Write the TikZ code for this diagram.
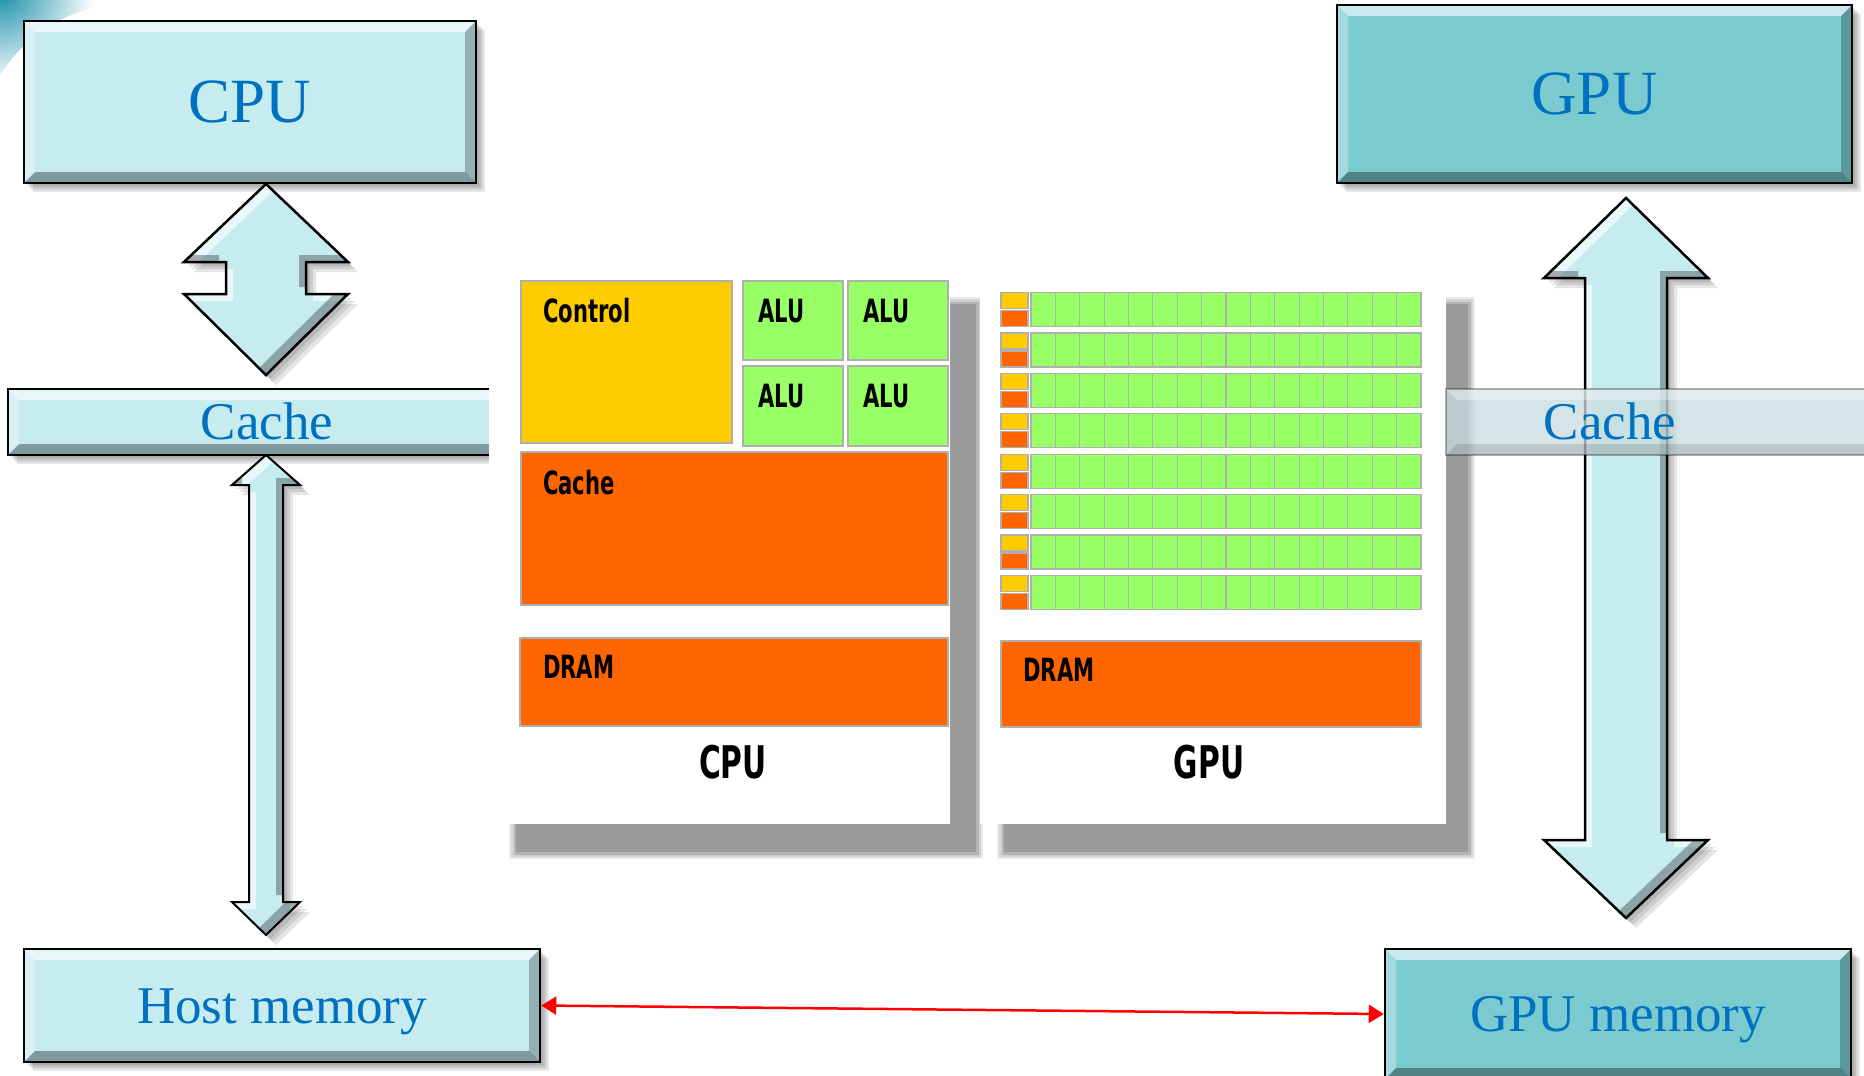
\documentclass[tikz,border=0pt]{standalone}
\usepackage{fontspec}
\setmainfont{Liberation Serif}
\newfontfamily\chipfont{DejaVu Sans}
\usetikzlibrary{arrows.meta}

\definecolor{boxL}{RGB}{198,236,240}
\definecolor{boxD}{RGB}{123,202,208}
\definecolor{txtblue}{RGB}{0,112,192}
\definecolor{cgreen}{RGB}{153,255,102}
\definecolor{cyellow}{RGB}{255,204,0}
\definecolor{corange}{RGB}{255,102,0}
\definecolor{cborder}{RGB}{175,175,175}
\definecolor{pshadow}{RGB}{155,155,155}
\definecolor{cacheG}{RGB}{200,220,222}
\definecolor{decoT}{RGB}{20,140,165}

\newcommand{\bap}[7]{(#1,#2) -- (#1+#6,#3) -- (#1+#7,#3) -- (#1+#7,#4) -- (#1+#6,#4) -- (#1,#5) -- (#1-#6,#4) -- (#1-#7,#4) -- (#1-#7,#3) -- (#1-#6,#3) -- cycle}

\newcommand{\blockarrow}[8]{%
  \foreach \d in {4,7,10}{\fill[black,opacity=0.1] \bap{#1+\d}{#2+\d}{#3+\d}{#4+\d}{#5+\d}{#6}{#7};}
  \begin{scope}
    \clip \bap{#1}{#2}{#3}{#4}{#5}{#6}{#7};
    \fill[boxL] \bap{#1}{#2}{#3}{#4}{#5}{#6}{#7};
    \fill[white,opacity=0.6,even odd rule] \bap{#1}{#2}{#3}{#4}{#5}{#6}{#7} \bap{#1+7}{#2+7}{#3+7}{#4+7}{#5+7}{#6}{#7};
    \fill[black,opacity=0.3,even odd rule] \bap{#1}{#2}{#3}{#4}{#5}{#6}{#7} \bap{#1-7}{#2-7}{#3-7}{#4-7}{#5-7}{#6}{#7};
  \end{scope}
  \draw[black,line width=#8] \bap{#1}{#2}{#3}{#4}{#5}{#6}{#7};
}

\newcommand{\boxshadow}[4]{\foreach \d in {3,5,7,9}{\fill[black,opacity=0.09] (#1+\d,#2+\d) rectangle (#3+\d,#4+\d);}}

\newcommand{\panelshadow}[4]{%
  \fill[pshadow!20!white] (#1-7,#2-7) rectangle (#3+7,#4+7);
  \fill[pshadow!45!white] (#1-5,#2-5) rectangle (#3+5,#4+5);
  \fill[pshadow!75!white] (#1-2.5,#2-2.5) rectangle (#3+2.5,#4+2.5);
  \fill[pshadow] (#1,#2) rectangle (#3,#4);
}

\newcommand{\chiplab}[2]{\scalebox{0.66}[1]{\chipfont\bfseries\fontsize{#1}{#1}\selectfont #2}}

\tikzset{
  bevelbox/.style={rectangle, draw=black, line width=2.5pt, fill=#1, inner sep=0pt, text=txtblue,
    path picture={
      \fill[white,opacity=0.6] (path picture bounding box.north west) -- (path picture bounding box.north east) -- ([shift={(-11pt,-11pt)}]path picture bounding box.north east) -- ([shift={(11pt,-11pt)}]path picture bounding box.north west) -- cycle;
      \fill[white,opacity=0.3] (path picture bounding box.north west) -- ([shift={(11pt,-11pt)}]path picture bounding box.north west) -- ([shift={(11pt,11pt)}]path picture bounding box.south west) -- (path picture bounding box.south west) -- cycle;
      \fill[black,opacity=0.35] (path picture bounding box.south west) -- (path picture bounding box.south east) -- ([shift={(-11pt,11pt)}]path picture bounding box.south east) -- ([shift={(11pt,11pt)}]path picture bounding box.south west) -- cycle;
      \fill[black,opacity=0.25] (path picture bounding box.north east) -- ([shift={(-11pt,-11pt)}]path picture bounding box.north east) -- ([shift={(-11pt,11pt)}]path picture bounding box.south east) -- (path picture bounding box.south east) -- cycle;
    }},
  fadebevel/.style={rectangle, draw=black, draw opacity=0.3, line width=2.5pt, fill=cacheG, fill opacity=0.75, inner sep=0pt,
    path picture={
      \fill[white,opacity=0.35] (path picture bounding box.north west) -- (path picture bounding box.north east) -- ([shift={(-11pt,-11pt)}]path picture bounding box.north east) -- ([shift={(11pt,-11pt)}]path picture bounding box.north west) -- cycle;
      \fill[black,opacity=0.12] (path picture bounding box.south west) -- (path picture bounding box.south east) -- ([shift={(-11pt,11pt)}]path picture bounding box.south east) -- ([shift={(11pt,11pt)}]path picture bounding box.south west) -- cycle;
      \fill[black,opacity=0.1] (path picture bounding box.north east) -- ([shift={(-11pt,-11pt)}]path picture bounding box.north east) -- ([shift={(-11pt,11pt)}]path picture bounding box.south east) -- (path picture bounding box.south east) -- cycle;
    }},
  bigtxt/.style={font=\fontsize{63}{70}\selectfont, text height=41.7pt, text depth=0pt},
  midtxt/.style={font=\fontsize{53}{60}\selectfont, text height=35pt, text depth=0pt},
  cell/.style={draw=cborder, line width=1.2pt},
  chiplbl/.style={anchor=base west, inner sep=0pt},
  chipttl/.style={anchor=base, inner sep=0pt},
  panel/.style={fill=white, inner sep=0pt},
}

\begin{document}
\begin{tikzpicture}[x=1pt,y=-1pt]
\useasboundingbox (0,0) rectangle (1864,1076);
\fill[white] (0,0) rectangle (1864,1076);
\clip (0,0) rectangle (1864,1076);

% corner decoration
\begin{scope}
  \clip (0,0) -- (150,0) .. controls (80,4) and (35,22) .. (0,75) -- cycle;
  \shade[inner color=decoT, outer color=white] (0,-10) circle (95);
\end{scope}

% ---- left column ----
\boxshadow{24}{21}{476}{183}
\node[bevelbox=boxL, bigtxt, minimum width=452pt, minimum height=162pt] (cpu) at (250,102) {CPU};

\blockarrow{266}{184}{262}{294}{375}{82}{40}{2.5pt}

\boxshadow{8}{389}{526}{455}
\node[bevelbox=boxL, midtxt, minimum width=518pt, minimum height=66pt] (cacheL) at (267,422) {Cache};

\blockarrow{266}{455}{485}{902}{935}{34}{17}{2pt}

\boxshadow{24}{949}{540}{1062}
\node[bevelbox=boxL, midtxt, minimum width=516pt, minimum height=113pt] (host) at (282,1005.5) {Host memory};

% ---- CPU chip panel ----
\panelshadow{516}{304}{976}{852}
\node[panel, minimum width=461pt, minimum height=546pt] (cpupanel) at (719.5,551) {};
\filldraw[cell, fill=cyellow] (521,281) rectangle (732,443);
\filldraw[cell, fill=cgreen] (743,281) rectangle (843,360);
\filldraw[cell, fill=cgreen] (848,281) rectangle (948,360);
\filldraw[cell, fill=cgreen] (743,366) rectangle (843,446);
\filldraw[cell, fill=cgreen] (848,366) rectangle (948,446);
\filldraw[cell, fill=corange] (521,452) rectangle (948,605);
\filldraw[cell, fill=corange] (520,638) rectangle (948,726);
\node[chiplbl] (lctrl) at (543,322) {\chiplab{32}{Control}};
\node[chiplbl] (lalu1) at (758,322) {\chiplab{32}{ALU}};
\node[chiplbl] (lalu2) at (863,322) {\chiplab{32}{ALU}};
\node[chiplbl] (lalu3) at (758,407) {\chiplab{32}{ALU}};
\node[chiplbl] (lalu4) at (863,407) {\chiplab{32}{ALU}};
\node[chiplbl] (lcache) at (543,494) {\chiplab{32}{Cache}};
\node[chiplbl] (ldram) at (543,678) {\chiplab{32}{DRAM}};
\node[chipttl] (lcpu) at (733,778) {\chiplab{45}{CPU}};

% ---- GPU chip panel ----
\panelshadow{1004}{304}{1468}{852}
\node[panel, minimum width=466pt, minimum height=546pt] (gpupanel) at (1213,551) {};
\foreach \k in {0,...,7}{
  \pgfmathsetmacro{\yt}{292.6+40.4*\k}
  \filldraw[cell, fill=cyellow] (1001,\yt) rectangle (1028,\yt+16);
  \filldraw[cell, fill=corange] (1001,\yt+18) rectangle (1028,\yt+34);
  \foreach \j in {0,...,15}{
    \filldraw[cell, fill=cgreen] (1031+24.375*\j,\yt) rectangle (1055.375+24.375*\j,\yt+34);
  }
}
\filldraw[cell, fill=corange] (1001,641) rectangle (1421,727);
\node[chiplbl] (gdram) at (1023,681) {\chiplab{32}{DRAM}};
\node[chipttl] (lgpu) at (1209,778) {\chiplab{45}{GPU}};

% ---- right column ----
\blockarrow{1626}{198}{278}{840}{918}{82}{41}{2.5pt}

\node[fadebevel, minimum width=440pt, minimum height=66pt] (cacheR) at (1666,422) {};
\node[midtxt, text=txtblue, inner sep=0pt] (cacheRt) at (1610,422) {Cache};

\boxshadow{1337}{5}{1852}{183}
\node[bevelbox=boxD, bigtxt, minimum width=515pt, minimum height=178pt] (gpu) at (1594.5,94) {GPU};

\boxshadow{1385}{949}{1851}{1079}
\node[bevelbox=boxD, midtxt, minimum width=466pt, minimum height=130pt] (gpumem) at (1618,1014) {GPU memory};

% ---- transfer arrow ----
\draw[red, line width=2.5pt, {Triangle[length=15pt,width=18pt]}-{Triangle[length=15pt,width=18pt]}] (host.east) -- (gpumem.west);
\end{tikzpicture}
\end{document}
